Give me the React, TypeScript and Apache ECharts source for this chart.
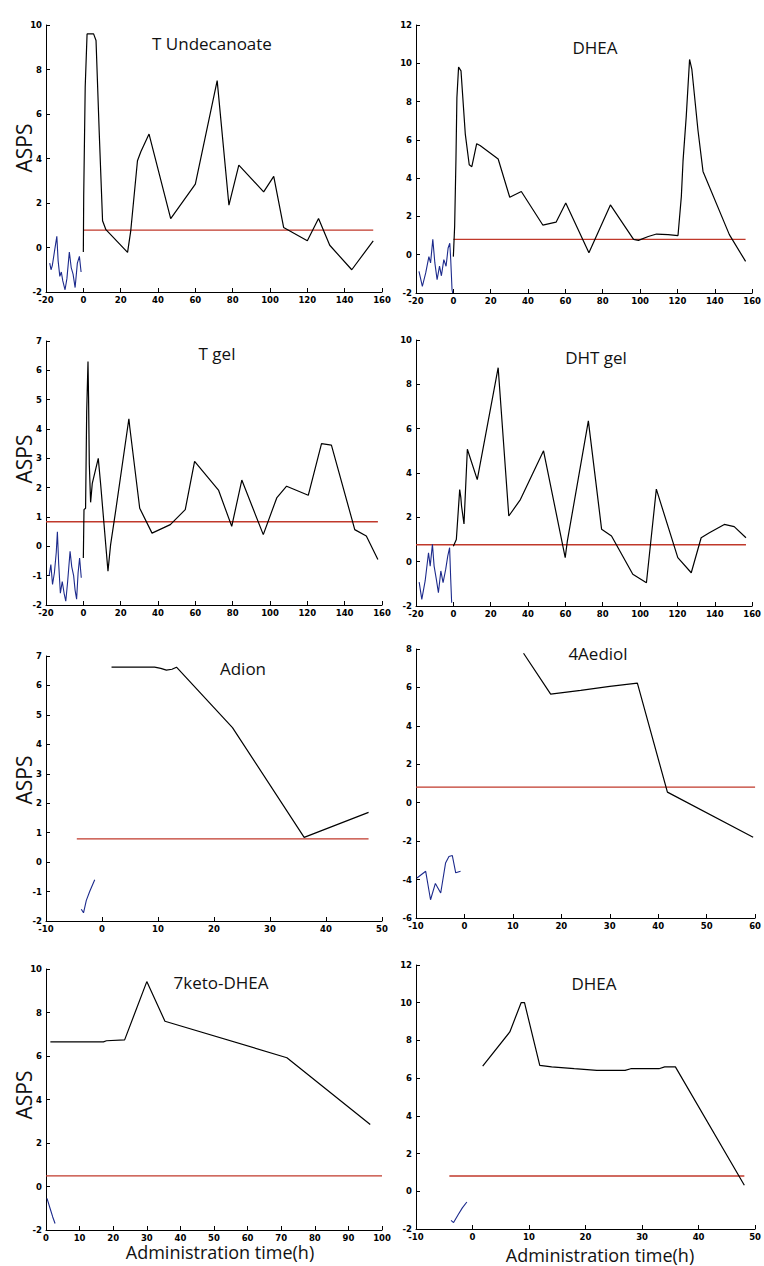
import React, { useEffect, useRef } from "react";
import * as echarts from "echarts";

// ---------- Data ----------
// Panel 1: T Undecanoate
const tuX = [0, 0.2, 1, 2, 5.5, 6.8, 8.5, 10.3, 12.1, 23.7, 25.4, 29, 30.8, 35.2, 46.8, 60, 71.7, 78, 83.3, 96.6, 102, 107.3, 120, 126, 132, 143.8, 155.3];
const tuY = [-0.2, 2.3, 7.2, 9.6, 9.6, 9.3, 5.2, 1.2, 0.8, -0.22, 0.75, 3.9, 4.3, 5.1, 1.3, 2.85, 7.5, 1.9, 3.7, 2.5, 3.2, 0.9, 0.3, 1.3, 0.1, -1.0, 0.3];
const tuBlueX = [-18, -17.3, -16.6, -15.5, -14.2, -13.5, -12.6, -11.8, -11, -9.8, -8.8, -7.5, -6.5, -5.5, -4.4, -3.2, -2.1, -1.2];
const tuBlueY = [-0.7, -1.0, -0.8, -0.2, 0.5, -0.6, -1.3, -1.1, -1.5, -1.9, -1.4, -0.2, -0.9, -1.2, -1.8, -0.7, -0.4, -1.1];
const tuRedX = [0, 155.3];
const tuRedY = [0.78, 0.78];

// Panel 2: DHEA
const dheaX = [0, 0.7, 1.4, 1.9, 2.8, 4.1, 6.4, 8.5, 9.9, 12.5, 14.3, 24, 30.2, 36.4, 47.9, 55, 60.2, 72.6, 84.1, 96.5, 99.1, 104.4, 108.8, 115, 120.3, 122.1, 123, 124.7, 126.5, 127.7, 131, 133.7, 147.8, 156.5];
const dheaY = [-0.1, 1.5, 5.0, 8.2, 9.8, 9.6, 6.3, 4.7, 4.6, 5.8, 5.7, 5.0, 3.0, 3.3, 1.55, 1.7, 2.7, 0.1, 2.6, 0.8, 0.75, 0.95, 1.08, 1.05, 1.0, 3.05, 4.9, 7.2, 10.2, 9.7, 6.5, 4.35, 1.05, -0.35];
const dheaBlueX = [-18.4, -16.6, -14.8, -13.1, -12.2, -11, -9.9, -8.7, -7.4, -6.4, -5.1, -3.9, -2.8, -1.9, -1.4, -0.7, -0.35];
const dheaBlueY = [-0.87, -1.65, -0.95, -0.1, -0.43, 0.8, -0.43, -1.3, -0.6, -1.1, -0.26, -0.6, 0.35, 0.6, -0.26, -1.83, -2.0];
const dheaRedX = [0, 156.5];
const dheaRedY = [0.8, 0.8];

// Panel 3: T gel
const tgX = [0, 0.35, 1.2, 1.8, 2.5, 2.8, 3.2, 3.9, 4.8, 8, 9.3, 13.2, 14.6, 17.3, 24.4, 24.9, 30.2, 36.8, 46.6, 54.6, 59.6, 72.4, 79.5, 84.9, 96.4, 103.6, 108.9, 120.5, 127.6, 132.9, 144.2, 145.4, 151.6, 157.8];
const tgY = [-0.4, 1.25, 1.3, 4.6, 6.3, 5.1, 2.8, 1.5, 2.15, 3.0, 2.1, -0.85, 0.05, 1.2, 4.35, 4.05, 1.3, 0.45, 0.74, 1.25, 2.9, 1.92, 0.68, 2.26, 0.4, 1.65, 2.05, 1.74, 3.5, 3.45, 0.85, 0.57, 0.35, -0.45];
const tgBlueX = [-18.3, -17.4, -16.5, -15.5, -14.5, -13.9, -13.2, -12.3, -11.3, -10.3, -9.4, -8.4, -7.1, -6.2, -5.2, -4.4, -3.6, -2.8, -2, -1.1];
const tgBlueY = [-1.0, -0.62, -1.3, -0.9, -0.2, 0.5, -0.6, -1.6, -1.2, -1.6, -1.87, -1.2, -0.17, -0.7, -1.0, -1.5, -1.8, -0.9, -0.4, -1.07];
const tgRedX = [-20, 157.8];
const tgRedY = [0.84, 0.84];

// Panel 4: DHT gel
const dhtX = [0, 1.6, 3.4, 4.0, 4.4, 5.7, 7.5, 12.8, 24, 29.7, 35.9, 48.3, 59.9, 61, 72.3, 79.4, 84.7, 96.1, 103.4, 108.7, 120.2, 127.4, 132.7, 137.1, 145.1, 150.4, 156.7];
const dhtY = [0.7, 1.0, 3.25, 2.9, 2.5, 1.7, 5.07, 3.7, 8.75, 2.06, 2.8, 5.0, 0.18, 0.9, 6.35, 1.46, 1.16, -0.57, -0.95, 3.27, 0.18, -0.5, 1.08, 1.3, 1.68, 1.58, 1.08];
const dhtBlueX = [-18.3, -16.9, -15.1, -13.3, -12.4, -11.2, -10.3, -9.1, -8, -6.7, -5.5, -4.1, -3, -2, -1.4, -0.9];
const dhtBlueY = [-0.92, -1.7, -0.87, 0.4, -0.2, 0.78, -0.2, -0.8, -1.4, -0.42, -0.95, -0.35, 0.25, 0.63, -0.8, -1.85];
const dhtRedX = [-20, 156.7];
const dhtRedY = [0.76, 0.76];

// Panel 5: Adion
const adX = [1.7, 9.4, 10.5, 11.5, 12.5, 13.3, 23.3, 36.1, 47.6];
const adY = [6.62, 6.62, 6.58, 6.52, 6.55, 6.62, 4.57, 0.84, 1.69];
const adBlueX = [-3.7, -3.3, -2.8, -2.2, -1.3];
const adBlueY = [-1.6, -1.72, -1.3, -1.0, -0.6];
const adRedX = [-4.5, 47.6];
const adRedY = [0.79, 0.79];

// Panel 6: 4Aediol
const aeX = [12.2, 17.8, 24, 30, 35.7, 41.9, 59.6];
const aeY = [7.78, 5.65, 5.85, 6.05, 6.22, 0.55, -1.8];
const aeBlueX = [-9.8, -8, -7, -6, -4.9, -3.9, -3.2, -2.5, -1.8, -0.8];
const aeBlueY = [-3.92, -3.57, -5.05, -4.2, -4.7, -3.14, -2.8, -2.75, -3.65, -3.57];
const aeRedX = [-10, 60];
const aeRedY = [0.81, 0.81];

// Panel 7: 7keto-DHEA
const kX = [1.3, 17.1, 18, 23.4, 30, 35.4, 71.7, 96.5];
const kY = [6.65, 6.65, 6.7, 6.74, 9.42, 7.6, 5.92, 2.85];
const kBlueX = [0.3, 1.2, 2.0, 2.7];
const kBlueY = [-0.55, -1.0, -1.4, -1.7];
const kRedX = [0, 100];
const kRedY = [0.49, 0.49];

// Panel 8: DHEA (short)
const d2X = [1.8, 6.6, 8.6, 9.2, 11.9, 14, 18, 22, 27, 28, 33, 34, 35.9, 48.1];
const d2Y = [6.64, 8.45, 10, 10, 6.68, 6.6, 6.5, 6.41, 6.41, 6.5, 6.5, 6.6, 6.6, 0.32];
const d2BlueX = [-3.8, -3.35, -2.6, -1.8, -1.0];
const d2BlueY = [-1.54, -1.66, -1.27, -0.88, -0.57];
const d2RedX = [-4.1, 48.1];
const d2RedY = [0.81, 0.81];

// Axis ranges [xmin, xmax, xstep, ymin, ymax, ystep]
const axisRanges = [
  [-20, 160, 20, -2, 10, 2],
  [-20, 160, 20, -2, 12, 2],
  [-20, 160, 20, -2, 7, 1],
  [-20, 160, 20, -2, 10, 2],
  [-10, 50, 10, -2, 7, 1],
  [-10, 60, 10, -6, 8, 2],
  [0, 100, 10, -2, 10, 2],
  [-10, 50, 10, -2, 12, 2],
];

const panelTitles = ["T Undecanoate", "DHEA", "T gel", "DHT gel", "Adion", "4Aediol", "7keto-DHEA", "DHEA"];
const yAxisTitle = "ASPS";
const xAxisTitle = "Administration time(h)";

const panels = [
  { black: [tuX, tuY], blue: [tuBlueX, tuBlueY], red: [tuRedX, tuRedY] },
  { black: [dheaX, dheaY], blue: [dheaBlueX, dheaBlueY], red: [dheaRedX, dheaRedY] },
  { black: [tgX, tgY], blue: [tgBlueX, tgBlueY], red: [tgRedX, tgRedY] },
  { black: [dhtX, dhtY], blue: [dhtBlueX, dhtBlueY], red: [dhtRedX, dhtRedY] },
  { black: [adX, adY], blue: [adBlueX, adBlueY], red: [adRedX, adRedY] },
  { black: [aeX, aeY], blue: [aeBlueX, aeBlueY], red: [aeRedX, aeRedY] },
  { black: [kX, kY], blue: [kBlueX, kBlueY], red: [kRedX, kRedY] },
  { black: [d2X, d2Y], blue: [d2BlueX, d2BlueY], red: [d2RedX, d2RedY] },
];

// ---------- Layout ----------
const gridBoxes = [
  { left: 46, top: 25, width: 336, height: 267 },
  { left: 416, top: 25, width: 340, height: 268 },
  { left: 46, top: 341, width: 336, height: 264 },
  { left: 416, top: 340, width: 340, height: 266 },
  { left: 46, top: 656, width: 336, height: 265 },
  { left: 416, top: 649, width: 342, height: 269 },
  { left: 46, top: 969, width: 336, height: 261 },
  { left: 416, top: 965, width: 340, height: 264 },
];
const titlePos = [
  [212, 43], [595, 47], [217, 353], [596, 357], [243, 668], [598, 653], [221, 982], [594, 983],
];
const asps = [[24, 148], [24, 459], [24, 780], [24, 1095]];
const xTitles = [[220, 1252], [600, 1255]];

const zip = (xs: number[], ys: number[]) => xs.map((x, i) => [x, ys[i]]);

const tickFont = { color: "#000", fontSize: 8.5, fontFamily: "DejaVu Sans", fontWeight: "bold" as const };
const textFont = "Open Sans";

function buildOption() {
  const grid = gridBoxes.map((g) => ({ ...g, containLabel: false }));
  const xAxis = axisRanges.map((r, i) => ({
    type: "value",
    gridIndex: i,
    min: r[0],
    max: r[1],
    interval: r[2],
    axisLine: { onZero: false, lineStyle: { color: "#000", width: 1 } },
    axisTick: { inside: true, length: 4, lineStyle: { color: "#000" } },
    axisLabel: { ...tickFont, margin: 3 },
    splitLine: { show: false },
  }));
  const yAxis = axisRanges.map((r, i) => ({
    type: "value",
    gridIndex: i,
    min: r[3],
    max: r[4],
    interval: r[5],
    axisLine: { onZero: false, lineStyle: { color: "#000", width: 1 } },
    axisTick: { inside: true, length: 4, lineStyle: { color: "#000" } },
    axisLabel: { ...tickFont, margin: 4 },
    splitLine: { show: false },
  }));
  const series: any[] = [];
  panels.forEach((p, i) => {
    series.push({
      type: "line", xAxisIndex: i, yAxisIndex: i, data: zip(p.red[0], p.red[1]),
      showSymbol: false, lineStyle: { color: "#c0392b", width: 1.4 }, z: 2,
    });
    series.push({
      type: "line", xAxisIndex: i, yAxisIndex: i, data: zip(p.blue[0], p.blue[1]),
      showSymbol: false, lineStyle: { color: "#1c2a8c", width: 1.1 }, z: 3,
    });
    series.push({
      type: "line", xAxisIndex: i, yAxisIndex: i, data: zip(p.black[0], p.black[1]),
      showSymbol: false, lineStyle: { color: "#000", width: 1.2 }, z: 4,
    });
  });
  const graphic: any[] = [];
  panelTitles.forEach((t, i) => {
    graphic.push({
      type: "text", x: titlePos[i][0], y: titlePos[i][1],
      style: { text: t, fill: "#111", font: `17px "${textFont}"`, textAlign: "center", textVerticalAlign: "middle" },
    });
  });
  asps.forEach((p) => {
    graphic.push({
      type: "text", x: p[0], y: p[1], rotation: Math.PI / 2,
      style: { text: yAxisTitle, fill: "#111", font: `21px "${textFont}"`, textAlign: "center", textVerticalAlign: "middle" },
    });
  });
  xTitles.forEach((p) => {
    graphic.push({
      type: "text", x: p[0], y: p[1],
      style: { text: xAxisTitle, fill: "#111", font: `18px "${textFont}"`, textAlign: "center", textVerticalAlign: "middle" },
    });
  });
  return { animation: false, backgroundColor: "#fff", grid, xAxis, yAxis, series, graphic };
}

export default function App() {
  const ref = useRef<HTMLDivElement>(null);
  useEffect(() => {
    if (!ref.current) return;
    const chart = echarts.init(ref.current, undefined, { renderer: "svg" });
    chart.setOption(buildOption() as any);
    return () => chart.dispose();
  }, []);
  return (
    <div
      ref={ref}
      style={{ position: "absolute", left: 0, top: 0, width: 764, height: 1266, background: "#fff" }}
    />
  );
}
